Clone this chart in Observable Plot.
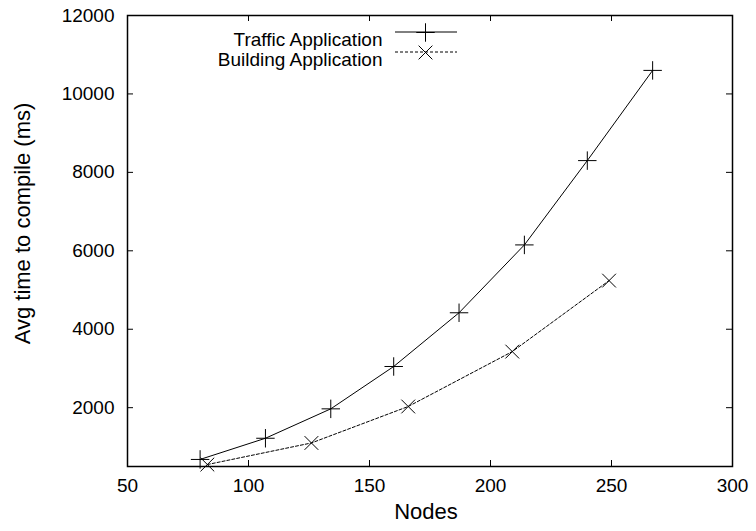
<!DOCTYPE html>
<html>
<head>
<meta charset="utf-8">
<script src="https://cdn.jsdelivr.net/npm/d3@7"></script>
<script src="https://cdn.jsdelivr.net/npm/@observablehq/plot@0.6"></script>
<style>
  html, body { margin: 0; padding: 0; background: #fff; }
</style>
</head>
<body>
<div id="chart"></div>
<script>
// ---- data ----
const trafficNodes = [80, 107, 134, 160, 187, 214, 240, 267];
const trafficTime  = [680, 1220, 1970, 3050, 4420, 6150, 8300, 10600];
const buildingNodes = [83, 126, 166, 209, 249];
const buildingTime  = [550, 1100, 2030, 3430, 5240];
const xTicks = [50, 100, 150, 200, 250, 300];
const yTicks = [2000, 4000, 6000, 8000, 10000, 12000];
const seriesNames = ["Traffic Application", "Building Application"];
const xLabel = "Nodes";
const yLabel = "Avg time to compile (ms)";

const traffic = trafficNodes.map((x, i) => ({x, y: trafficTime[i]}));
const building = buildingNodes.map((x, i) => ({x, y: buildingTime[i]}));

// ---- layout ----
const W = 756, H = 531;
const mL = 127, mR = 24, mT = 15, mB = 65;
const pw = W - mL - mR, ph = H - mT - mB;
const tk = 6;
const font = "Liberation Sans, Arial, Helvetica, sans-serif";
const fs = 19;     // tick labels and legend
const fsT = 22;    // axis titles

// legend line samples (function mark using Plot's dimensions)
function legendLines(index, scales, values, dims) {
  const g = d3.create("svg:g").attr("fill", "none").attr("stroke", "black").attr("stroke-width", 1);
  const x0 = dims.marginLeft + 268, x1 = dims.marginLeft + 330;
  g.append("line").attr("x1", x0).attr("x2", x1)
    .attr("y1", dims.marginTop + 17).attr("y2", dims.marginTop + 17);
  g.append("line").attr("x1", x0).attr("x2", x1)
    .attr("y1", dims.marginTop + 37).attr("y2", dims.marginTop + 37)
    .attr("stroke-dasharray", "3,2");
  return g.node();
}

// rotated y-axis title (function mark)
function yTitle(index, scales, values, dims) {
  const cy = (dims.marginTop + dims.height - dims.marginBottom) / 2 - 17;
  const cx = dims.marginLeft - 105;
  const t = d3.create("svg:text")
    .attr("transform", `translate(${cx},${cy}) rotate(-90)`)
    .attr("text-anchor", "middle")
    .attr("dy", "0.35em")
    .attr("fill", "black")
    .attr("font-size", fsT)
    .attr("font-family", font)
    .text(yLabel);
  return t.node();
}

const chart = Plot.plot({
  width: W, height: H,
  marginLeft: mL, marginRight: mR, marginTop: mT, marginBottom: mB,
  style: {fontFamily: font, fontSize: fs + "px", color: "black", background: "white"},
  x: {domain: [50, 300], ticks: xTicks},
  y: {domain: [500, 12000], ticks: yTicks},
  marks: [
    Plot.axisX({ticks: xTicks, tickFormat: d => String(d), tickSize: 0, tickPadding: 12, label: null, fontSize: fs}),
    Plot.axisY({ticks: yTicks, tickFormat: d => String(d), tickSize: 0, tickPadding: 13, label: null, fontSize: fs}),
    // inward ticks (mirrored)
    Plot.tickX(xTicks, {x: d => d, insetTop: ph - tk, stroke: "black", strokeWidth: 1}),
    Plot.tickX(xTicks, {x: d => d, insetBottom: ph - tk, stroke: "black", strokeWidth: 1}),
    Plot.tickY(yTicks, {y: d => d, insetRight: pw - tk, stroke: "black", strokeWidth: 1}),
    Plot.tickY(yTicks, {y: d => d, insetLeft: pw - tk, stroke: "black", strokeWidth: 1}),
    // series
    Plot.line(traffic, {x: "x", y: "y", stroke: "black", strokeWidth: 1}),
    Plot.dot(traffic, {x: "x", y: "y", symbol: "plus", r: 6, stroke: "black", strokeWidth: 1}),
    Plot.line(building, {x: "x", y: "y", stroke: "black", strokeWidth: 1, strokeDasharray: "3,2"}),
    Plot.dot(building, {x: "x", y: "y", symbol: "times", r: 6.3, stroke: "black", strokeWidth: 1}),
    // axis titles
    Plot.text([xLabel], {frameAnchor: "bottom", dx: -4, dy: 52, text: d => d, fontSize: fsT, fill: "black"}),
    yTitle,
    // legend
    Plot.text([seriesNames[0]], {frameAnchor: "top-left", dx: 255, dy: 17, textAnchor: "end", text: d => d, fontSize: fs, fill: "black"}),
    Plot.text([seriesNames[1]], {frameAnchor: "top-left", dx: 255, dy: 37, textAnchor: "end", text: d => d, fontSize: fs, fill: "black"}),
    legendLines,
    Plot.dot([seriesNames[0]], {frameAnchor: "top-left", dx: 298, dy: 17, symbol: "plus", r: 6, stroke: "black", strokeWidth: 1}),
    Plot.dot([seriesNames[1]], {frameAnchor: "top-left", dx: 298, dy: 37, symbol: "times", r: 6.3, stroke: "black", strokeWidth: 1}),
    Plot.frame({stroke: "black", strokeWidth: 1.5})
  ]
});
document.getElementById("chart").appendChild(chart);
</script>
</body>
</html>
